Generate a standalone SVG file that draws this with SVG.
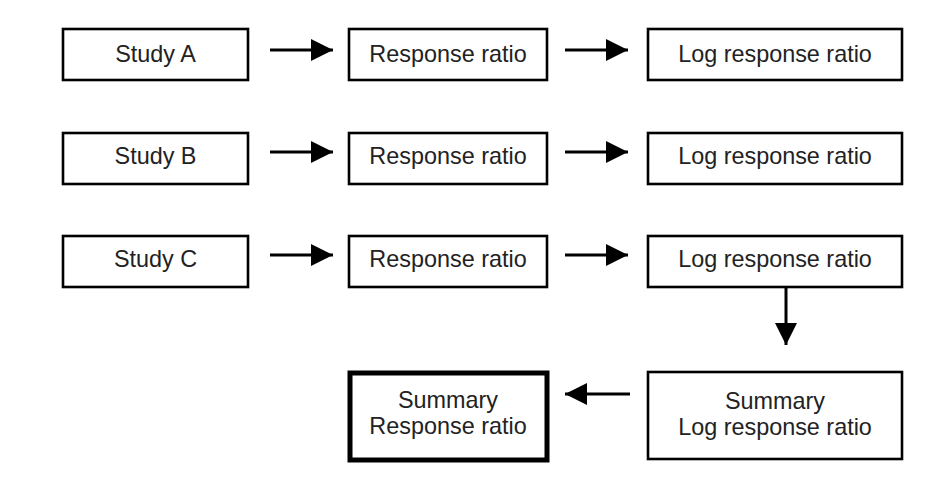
<svg xmlns="http://www.w3.org/2000/svg" width="946" height="487" viewBox="0 0 946 487">
<defs>
<style>
.box{fill:#fff;stroke:#000;stroke-width:2.6}
.thick{fill:#fff;stroke:#000;stroke-width:5}
.lbl{font-family:"Liberation Sans",Arial,sans-serif;font-size:23.4px;fill:#222;text-anchor:middle}
.conn{stroke:#000;stroke-width:3;fill:none;marker-end:url(#ah)}
</style>
<marker id="ah" viewBox="0 0 22 22" refX="22" refY="11" markerWidth="22" markerHeight="22" markerUnits="userSpaceOnUse" orient="auto">
<path d="M0,0 L22,11 L0,22 Z" fill="#000"/>
</marker>
</defs>
<rect width="946" height="487" fill="#fff"/>
<g id="studyA"><rect class="box" x="63" y="29" width="185" height="51"/><text class="lbl" x="155.5" y="62">Study A</text></g>
<g id="rrA"><rect class="box" x="349" y="29" width="198" height="51"/><text class="lbl" x="448" y="62">Response ratio</text></g>
<g id="lrrA"><rect class="box" x="648" y="29" width="254" height="51"/><text class="lbl" x="775" y="62">Log response ratio</text></g>
<g id="studyB"><rect class="box" x="63" y="133" width="185" height="51"/><text class="lbl" x="155.5" y="164">Study B</text></g>
<g id="rrB"><rect class="box" x="349" y="133" width="198" height="51"/><text class="lbl" x="448" y="164">Response ratio</text></g>
<g id="lrrB"><rect class="box" x="648" y="133" width="254" height="51"/><text class="lbl" x="775" y="164">Log response ratio</text></g>
<g id="studyC"><rect class="box" x="63" y="236" width="185" height="51"/><text class="lbl" x="155.5" y="267">Study C</text></g>
<g id="rrC"><rect class="box" x="349" y="236" width="198" height="51"/><text class="lbl" x="448" y="267">Response ratio</text></g>
<g id="lrrC"><rect class="box" x="648" y="236" width="254" height="51"/><text class="lbl" x="775" y="267">Log response ratio</text></g>
<g id="sumLrr"><rect class="box" x="648" y="372" width="254" height="87"/><text class="lbl" x="775" y="409">Summary</text><text class="lbl" x="775" y="435">Log response ratio</text></g>
<g id="sumRr"><rect class="thick" x="350" y="373" width="197" height="87"/><text class="lbl" x="448" y="408">Summary</text><text class="lbl" x="448" y="434">Response ratio</text></g>
<g id="connectors">
<line class="conn" x1="270" y1="50" x2="333" y2="50"/>
<line class="conn" x1="565" y1="50" x2="628" y2="50"/>
<line class="conn" x1="270" y1="152" x2="333" y2="152"/>
<line class="conn" x1="565" y1="152" x2="628" y2="152"/>
<line class="conn" x1="270" y1="255" x2="333" y2="255"/>
<line class="conn" x1="565" y1="255" x2="628" y2="255"/>
<line class="conn" x1="786" y1="288" x2="786" y2="345"/>
<line class="conn" x1="630" y1="394" x2="565" y2="394"/>
</g>
</svg>
